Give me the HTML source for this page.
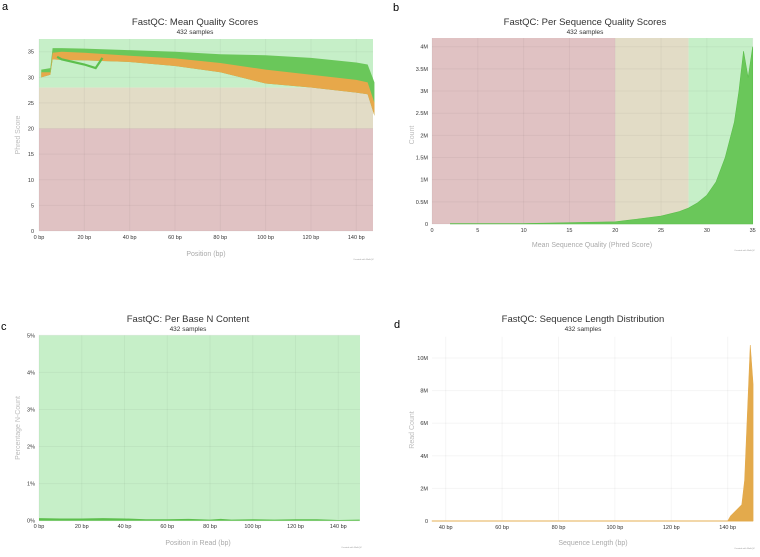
<!DOCTYPE html>
<html><head><meta charset="utf-8"><style>
body{margin:0;background:#fff;width:760px;height:552px;overflow:hidden;font-family:"Liberation Sans",sans-serif}
svg text{font-family:"Liberation Sans",sans-serif}
</style></head><body>
<svg id="fig" width="760" height="552" xmlns="http://www.w3.org/2000/svg"></svg>
<script>
// ---- Panel a data ----
const aPos=[1,5,6,10,20,40,60,80,100,120,140,145,148];
const aGreenUp=[31.5,31.8,35.7,35.7,35.6,35.3,35,34.5,34.3,33.8,32.9,32.5,29];
const aOrangeUp=[31,31,34.8,35,34.8,34.2,33.7,32.8,31.5,30.5,29.5,29,25];
const aOrangeLo=[30,30.5,33.5,33.4,33.3,33,32.2,31,28.8,28,27,26.7,22.5];
const aDipPos=[8,10,20,25,28];
const aDipVal=[34,33.5,32.5,31.8,33.8];
const aYTicks=[0,5,10,15,20,25,30,35];
const aXTicks=[0,20,40,60,80,100,120,140];
// ---- Panel b data ----
const bQ=[2,10,20,22,25,27,28,29,30,31,32,33,33.5,34,34.5,35];
const bUp=[0.01,0.01,0.05,0.1,0.18,0.28,0.36,0.48,0.65,0.95,1.5,2.3,3.0,3.9,3.3,4.0];
const bYTicks=[0,0.5,1,1.5,2,2.5,3,3.5,4];
const bXTicks=[0,5,10,15,20,25,30,35];
// ---- Panel c data ----
const cPos=[0,10,20,30,40,50,60,70,80,85,90,100,110,120,130,140,150];
const cN=[0.07,0.06,0.06,0.07,0.06,0.04,0.04,0.05,0.03,0.05,0.03,0.04,0.03,0.04,0.04,0.02,0.03];
const cYTicks=[0,1,2,3,4,5];
const cXTicks=[0,20,40,60,80,100,120,140];
// ---- Panel d data ----
const dLen=[35,140,141,145,146,148,149];
const dCnt=[0,0,0.3,1.0,2.5,10.8,8.4];
const dYTicks=[0,2,4,6,8,10];
const dXTicks=[40,60,80,100,120,140];

const NS="http://www.w3.org/2000/svg";
const svg=document.getElementById('fig');
function el(tag,attrs,parent){const e=document.createElementNS(NS,tag);for(const k in attrs)e.setAttribute(k,attrs[k]);(parent||svg).appendChild(e);return e;}
function txt(x,y,s,size,fill,anchor,extra){const t=el('text',Object.assign({x:x,y:y,'font-size':size,fill:fill,'text-anchor':anchor||'middle'},extra||{}));t.textContent=s;return t;}
function scale(d0,d1,r0,r1){return v=>r0+(v-d0)/(d1-d0)*(r1-r0);}
function area(xs,ys,sx,sy,base){let d='M'+sx(xs[0])+','+sy(base);xs.forEach((x,i)=>d+=' L'+sx(x)+','+sy(ys[i]));d+=' L'+sx(xs[xs.length-1])+','+sy(base)+'Z';return d;}
function band(xs,up,lo,sx,sy){let d='M'+sx(xs[0])+','+sy(up[0]);xs.forEach((x,i)=>d+=' L'+sx(x)+','+sy(up[i]));for(let i=xs.length-1;i>=0;i--)d+=' L'+sx(xs[i])+','+sy(lo[i]);return d+'Z';}
function line(xs,ys,sx,sy){return xs.map((x,i)=>(i?'L':'M')+sx(x)+','+sy(ys[i])).join(' ');}

// ===== Panel a =====
{
const g=el('g',{});
const sx=scale(0,140,39,356.3), sy=scale(0,35,231,51.7);
const L=39,R=373,T=39,B=231;
el('rect',{x:L,y:T,width:R-L,height:sy(28)-T,fill:'#c6efc8'},g);
el('rect',{x:L,y:sy(28),width:R-L,height:sy(20)-sy(28),fill:'#e2dcc6'},g);
el('rect',{x:L,y:sy(20),width:R-L,height:B-sy(20),fill:'#e0c2c3'},g);
aXTicks.forEach(v=>{el('line',{x1:sx(v),x2:sx(v),y1:T,y2:B,stroke:'rgba(0,0,0,0.04)'},g);const t=txt(sx(v),239,v+' bp',5.5,'#333');});
aYTicks.forEach(v=>{el('line',{x1:L,x2:R,y1:sy(v),y2:sy(v),stroke:'rgba(0,0,0,0.04)'},g);const t=txt(34,sy(v)+2,String(v),5.5,'#333','end');});
const gb=el('path',{d:band(aPos,aGreenUp,aOrangeLo,sx,sy),fill:'#6ac75a'},g);
const ob=el('path',{d:band(aPos,aOrangeUp,aOrangeLo,sx,sy),fill:'#e7a84a'},g);
const dp=el('path',{d:line(aDipPos,aDipVal,sx,sy),fill:'none',stroke:'#5cbf4c','stroke-width':2.2},g);
const ti=txt(195,25,'FastQC: Mean Quality Scores',9.5,'#333');
const st=txt(195,34,'432 samples',6.5,'#333');
const xl=txt(206,256,'Position (bp)',7,'#aaa');
const yl=txt(20,135,'Phred Score',7,'#bbb','middle',{transform:'rotate(-90 20 135)'});
const pl=txt(2,10,'a',11,'#000','start');
txt(374,260,'Created with MultiQC',2.2,'#999','end');
}
// ===== Panel b =====
{
const g=el('g',{});
const sx=scale(0,35,432,752.7), sy=scale(0,4,224,46.7);
const L=432,R=752.7,T=38,B=224;
el('rect',{x:L,y:T,width:sx(20)-L,height:B-T,fill:'#e0c2c3'},g);
el('rect',{x:sx(20),y:T,width:sx(28)-sx(20),height:B-T,fill:'#e2dcc6'},g);
el('rect',{x:sx(28),y:T,width:R-sx(28),height:B-T,fill:'#c6efc8'},g);
bXTicks.forEach(v=>{el('line',{x1:sx(v),x2:sx(v),y1:T,y2:B,stroke:'rgba(0,0,0,0.04)'},g);const t=txt(sx(v),232,String(v),5.5,'#333');});
bYTicks.forEach(v=>{el('line',{x1:L,x2:R,y1:sy(v),y2:sy(v),stroke:'rgba(0,0,0,0.04)'},g);const t=txt(L-4,sy(v)+2,v===0?'0':v+'M',5.5,'#333','end');});
const a=el('path',{d:area(bQ,bUp,sx,sy,0),fill:'#6ac75a',stroke:'#5cbf4c','stroke-width':0.6},g);
const ti=txt(585,25,'FastQC: Per Sequence Quality Scores',9.5,'#333');
const st=txt(585,34,'432 samples',6.5,'#333');
const xl=txt(592,247,'Mean Sequence Quality (Phred Score)',7,'#aaa');
const yl=txt(414,135,'Count',7,'#bbb','middle',{transform:'rotate(-90 414 135)'});
const pl=txt(393,11,'b',11,'#000','start');
txt(755,251,'Created with MultiQC',2.2,'#999','end');
}
// ===== Panel c =====
{
const g=el('g',{});
const sx=scale(0,140,39,338.3), sy=scale(0,5,520.7,335.3);
const L=39,R=360,T=335.3,B=520.7;
el('rect',{x:L,y:T,width:R-L,height:B-T,fill:'#c6efc8'},g);
cXTicks.forEach(v=>{el('line',{x1:sx(v),x2:sx(v),y1:T,y2:B,stroke:'rgba(0,0,0,0.04)'},g);const t=txt(sx(v),528,v+' bp',5.5,'#333');});
cYTicks.forEach(v=>{el('line',{x1:L,x2:R,y1:sy(v),y2:sy(v),stroke:'rgba(0,0,0,0.04)'},g);const t=txt(35,sy(v)+2,v+'%',5.5,'#333','end');});
const a=el('path',{d:area(cPos,cN,sx,sy,0),fill:'#5cbf4c'},g);
const ti=txt(188,322,'FastQC: Per Base N Content',9.5,'#333');
const st=txt(188,331,'432 samples',6.5,'#333');
const xl=txt(198,545,'Position in Read (bp)',7,'#aaa');
const yl=txt(20,428,'Percentage N-Count',7,'#bbb','middle',{transform:'rotate(-90 20 428)'});
const pl=txt(1,330,'c',11,'#000','start');
txt(362,548,'Created with MultiQC',2.2,'#999','end');
}
// ===== Panel d =====
{
const g=el('g',{});
const sx=scale(40,140,445.7,727.7), sy=scale(0,10,521,358);
const L=432,R=753,T=336.7,B=521;
dXTicks.forEach(v=>{el('line',{x1:sx(v),x2:sx(v),y1:T,y2:B,stroke:'rgba(0,0,0,0.04)'},g);const t=txt(sx(v),529,v+' bp',5.5,'#333');});
dYTicks.forEach(v=>{el('line',{x1:L,x2:R,y1:sy(v),y2:sy(v),stroke:'rgba(0,0,0,0.04)'},g);const t=txt(L-4,sy(v)+2,v===0?'0':v+'M',5.5,'#333','end');});
el('line',{x1:L,x2:R,y1:B,y2:B,stroke:'#e7b45a','stroke-width':1},g);
const a=el('path',{d:area(dLen,dCnt,sx,sy,0),fill:'#e3aa4c',stroke:'#e3aa4c','stroke-width':0.6},g);
const ti=txt(583,322,'FastQC: Sequence Length Distribution',9.5,'#333');
const st=txt(583,331,'432 samples',6.5,'#333');
const xl=txt(593,545,'Sequence Length (bp)',7,'#aaa');
const yl=txt(414,430,'Read Count',7,'#bbb','middle',{transform:'rotate(-90 414 430)'});
const pl=txt(394,328,'d',11,'#000','start');
txt(755,549,'Created with MultiQC',2.2,'#999','end');
}
</script>
</body></html>
